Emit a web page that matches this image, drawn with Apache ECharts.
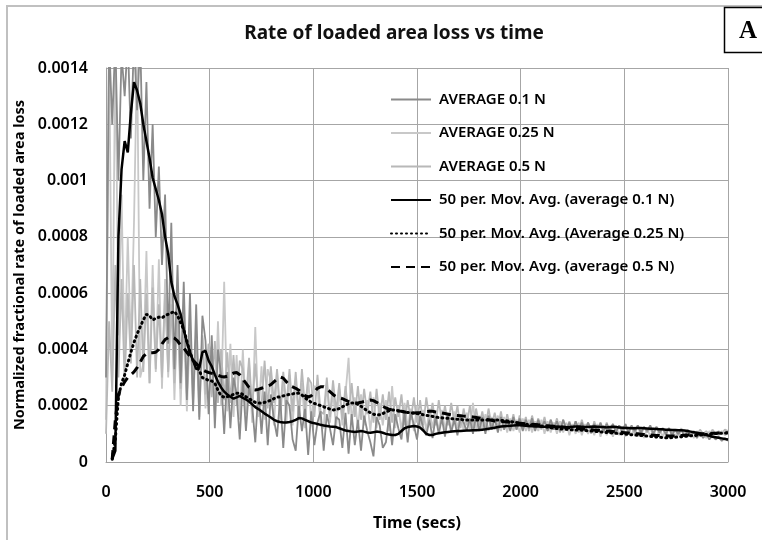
<!DOCTYPE html>
<html>
<head>
<meta charset="utf-8">
<script src="https://cdn.jsdelivr.net/npm/echarts@6/dist/echarts.min.js"></script>
<style>html,body{margin:0;padding:0;background:#fff}#c{width:762px;height:540px}</style>
</head>
<body>
<div id="c"></div>
<script>
// Time axis: samples every 15 s from 0 to 3000 s
const T_START = 0, T_STEP = 15;
const xTicks = [0, 500, 1000, 1500, 2000, 2500, 3000];
const yTickLabels = ['0', '0.0002', '0.0004', '0.0006', '0.0008', '0.001', '0.0012', '0.0014'];
const SERIES_NAMES = ['AVERAGE 0.1 N', 'AVERAGE 0.25 N', 'AVERAGE 0.5 N',
  '50 per. Mov. Avg. (average 0.1 N)', '50 per. Mov. Avg. (Average 0.25 N)', '50 per. Mov. Avg. (average 0.5 N)'];

// Values in units of 1e-6
const avg01 = [
  300,1500,1200,1500,1000,1450,1300,1500,1150,1500,
  1250,1500,1000,1350,900,1200,800,1050,700,950,
  420,850,330,700,280,640,220,600,180,560,
  150,520,430,170,450,120,400,310,100,320,
  120,300,240,80,290,110,270,200,70,260,
  100,250,60,240,150,90,230,50,220,200,
  80,40,200,110,190,25,180,60,140,180,
  40,170,120,60,160,150,50,175,30,170,
  60,150,40,165,110,70,20,160,130,50,
  70,160,60,170,120,80,175,70,180,130,
  80,165,120,95,150,85,160,100,155,90,
  165,105,150,95,160,140,110,155,100,165,
  110,160,100,165,115,155,105,160,115,150,
  110,160,115,155,110,150,120,155,110,150,
  120,145,110,150,115,145,110,150,115,140,
  110,145,115,140,110,140,115,135,110,140,
  110,135,115,135,105,130,110,135,105,130,
  110,130,105,125,110,130,100,125,105,120,
  100,120,95,115,100,115,90,110,95,105,
  85,105,85,100,80,95,80,90,75,85,
  75
];
const avg025 = [
  150,1500,300,1500,450,950,350,800,400,850,
  1450,300,350,750,280,700,320,720,260,650,
  300,600,220,560,200,520,180,480,200,450,
  160,440,190,420,380,170,500,200,640,180,
  420,160,380,150,400,170,350,140,480,160,
  340,150,330,290,130,320,150,300,140,310,
  130,290,150,280,120,300,140,270,260,130,
  120,280,140,250,120,260,130,240,370,140,
  230,120,240,130,220,110,230,120,210,130,
  220,110,270,120,200,110,210,120,190,110,
  200,120,185,110,190,120,180,110,185,115,
  175,110,180,120,170,110,175,115,210,110,
  165,115,170,110,160,115,165,110,160,105,
  155,110,150,105,155,110,150,105,145,110,
  150,100,145,105,140,100,145,105,140,95,
  135,100,140,95,135,100,130,95,135,90,
  130,95,125,90,130,95,125,90,120,95,
  125,90,120,85,120,90,115,85,120,90,
  115,85,110,90,115,85,110,90,105,85,
  110,90,105,85,110,90,105,95,110,95,
  105
];
const avg05 = [
  100,500,250,700,300,650,280,600,350,700,
  300,650,320,600,280,620,330,560,300,600,
  320,560,280,520,260,500,240,480,250,460,
  220,450,240,420,230,430,210,400,220,390,
  210,380,200,360,330,220,370,190,350,210,
  200,360,190,340,210,330,180,320,200,330,
  180,320,170,330,190,300,280,160,310,180,
  170,300,160,290,180,280,150,270,170,280,
  160,270,150,260,170,250,140,260,150,240,
  150,250,140,230,160,240,130,220,150,230,
  140,220,130,230,150,210,130,220,140,200,
  130,210,140,200,120,190,130,200,120,190,
  130,180,120,190,130,175,120,180,115,170,
  120,170,115,165,125,160,110,165,120,155,
  115,160,110,150,120,155,105,150,115,145,
  110,145,105,150,110,140,100,145,110,135,
  105,140,100,135,110,130,100,135,105,125,
  100,130,95,125,105,120,95,125,100,120,
  95,120,100,115,95,120,90,115,100,110,
  95,115,100,110,95,115,100,110,100,115,
  110
];
const ma01 = [
  null,null,10,40,800,1040,1140,1100,1240,1350,
  1320,1275,1200,1140,1080,1010,970,930,880,800,
  740,640,590,560,525,470,425,390,360,330,
  335,390,395,360,340,310,285,265,250,240,
  232,225,230,235,228,222,215,205,195,188,
  180,172,165,158,150,145,142,140,140,142,
  145,150,156,155,150,145,140,138,135,132,
  130,128,126,125,124,120,116,112,110,108,
  107,108,110,108,105,104,106,108,107,104,
  100,98,96,96,100,110,120,124,126,128,
  126,122,112,100,96,96,100,102,104,106,
  107,108,109,110,110,111,112,112,113,113,
  114,115,116,118,120,122,124,126,127,128,
  129,130,131,131,130,129,128,127,126,126,
  125,125,124,124,125,126,125,124,123,124,
  125,126,126,125,124,124,125,126,125,124,
  124,123,124,125,124,123,122,121,121,120,
  120,121,121,120,119,118,118,117,116,116,
  115,115,114,114,113,113,112,110,108,106,
  104,101,98,96,93,90,88,86,84,82,
  80
];
const ma025 = [
  null,null,10,80,230,280,310,350,390,425,
  455,480,505,525,520,505,510,515,512,520,
  525,530,535,520,495,470,430,390,360,340,
  325,300,295,290,288,280,255,235,230,232,
  236,240,244,245,240,232,225,218,212,210,
  210,212,215,220,225,230,232,235,238,240,
  242,245,244,238,228,220,212,208,205,200,
  196,192,188,185,186,190,196,202,207,210,
  210,205,198,190,182,175,170,167,168,172,
  178,182,185,184,182,180,178,176,175,174,
  172,170,168,166,164,162,160,158,157,156,
  155,154,153,152,151,150,149,149,149,149,
  149,149,149,149,149,149,149,148,147,146,
  144,142,140,138,136,134,132,131,131,130,
  128,126,124,122,120,119,118,117,116,115,
  115,114,114,113,112,111,110,109,108,107,
  106,105,104,103,102,101,100,99,98,97,
  96,95,94,93,92,91,90,89,88,87,
  86,86,87,88,89,90,91,92,93,94,
  95,96,97,98,99,100,101,102,102,103,
  103
];
const ma05 = [
  null,null,10,150,240,265,285,300,310,320,
  335,355,375,385,388,388,390,400,420,435,
  442,444,440,430,415,405,390,375,362,350,
  338,328,322,318,315,312,308,304,302,305,
  310,316,318,310,295,280,265,258,256,258,
  262,266,270,275,285,295,302,298,285,272,
  267,262,255,245,236,231,235,248,262,267,
  267,260,250,240,232,228,225,220,215,212,
  210,210,212,215,218,220,218,212,205,198,
  192,188,185,183,181,180,178,176,175,174,
  175,176,178,179,180,180,178,176,174,172,
  170,168,166,165,164,163,162,161,160,158,
  156,154,152,150,148,146,145,144,143,142,
  141,140,139,138,137,136,135,134,133,132,
  131,130,129,128,127,126,125,124,123,122,
  121,120,119,118,117,116,115,114,113,112,
  111,110,109,108,107,106,105,104,103,102,
  101,100,99,98,97,96,95,94,94,93,
  93,92,92,92,93,94,95,96,97,98,
  99,100,100,101,101,102,102,103,103,104,
  104
];

const UNIT = 1e-6;
const pairs = arr => arr.map((v, i) => [T_START + i * T_STEP, v == null ? null : v * UNIT]);

const FONT = 'Noto Sans';
const chart = echarts.init(document.getElementById('c'), null, {renderer: 'canvas'});

function rawSeries(name, data, color) {
  return {name, type: 'line', data: pairs(data), showSymbol: false, symbol: 'none',
    lineStyle: {color, width: 1.8}, itemStyle: {color}, clip: true, z: 2};
}
function maSeries(name, data, type, width, cap) {
  return {name, type: 'line', data: pairs(data), showSymbol: false, symbol: 'none', connectNulls: false,
    lineStyle: {color: '#000', width, type, cap: cap || 'butt'}, itemStyle: {color: '#000'}, clip: true, z: 5};
}

chart.setOption({
  animation: false,
  backgroundColor: '#fff',
  title: {
    text: 'Rate of loaded area loss vs time', left: 389, top: 19, textAlign: 'center',
    textStyle: {fontFamily: FONT, fontSize: 19, fontWeight: 'bold', color: '#111'}
  },
  grid: {left: 106, right: 34, top: 68, bottom: 78},
  legend: {
    orient: 'vertical', left: 385, top: 87, itemWidth: 40, itemHeight: 14, itemGap: 18.5,
    data: SERIES_NAMES,
    itemStyle: {opacity: 0},
    textStyle: {fontFamily: FONT, fontSize: 15, fontWeight: 600, color: '#000', padding: [0, 0, 0, 3]}
  },
  xAxis: {
    type: 'value', min: 0, max: 3000, interval: 500,
    name: 'Time (secs)', nameLocation: 'middle', nameGap: 53,
    nameTextStyle: {fontFamily: FONT, fontSize: 16, fontWeight: 'bold', color: '#000'},
    axisLine: {show: true, lineStyle: {color: '#a0a0a0', width: 1}},
    axisTick: {show: false},
    axisLabel: {fontFamily: FONT, fontSize: 16, color: '#000', fontWeight: 600, margin: 22,
      formatter: v => xTicks.includes(v) ? String(v) : ''},
    splitLine: {show: true, lineStyle: {color: '#a6a6a6', width: 1}}
  },
  yAxis: {
    type: 'value', min: 0, max: 0.0014, interval: 0.0002,
    name: 'Normalized fractional rate of loaded area loss', nameLocation: 'middle', nameGap: 76,
    nameTextStyle: {fontFamily: FONT, fontSize: 14.5, fontWeight: 'bold', color: '#000'},
    axisLine: {show: true, lineStyle: {color: '#a0a0a0', width: 1}},
    axisTick: {show: false},
    axisLabel: {fontFamily: FONT, fontSize: 16, color: '#000', fontWeight: 600, margin: 18,
      formatter: v => yTickLabels[Math.round(v / 0.0002)]},
    splitLine: {show: true, lineStyle: {color: '#a6a6a6', width: 1}}
  },
  graphic: [
    {type: 'rect', shape: {x: 7, y: 6, width: 780, height: 560}, style: {fill: 'none', stroke: '#c0c0c0', lineWidth: 2}, z: -10, silent: true},
    {type: 'rect', shape: {x: 724.5, y: 7.5, width: 50, height: 45}, style: {fill: '#fff', stroke: '#000', lineWidth: 1.5}, z: 10},
    {type: 'text', x: 748, y: 32, style: {text: 'A', fontFamily: 'Liberation Serif', fontSize: 25, fontWeight: 'bold', fill: '#000', align: 'center', verticalAlign: 'middle'}, z: 11}
  ],
  series: [
    rawSeries(SERIES_NAMES[1], avg025, '#c8c8c8'),
    rawSeries(SERIES_NAMES[2], avg05, '#b8b8b8'),
    rawSeries(SERIES_NAMES[0], avg01, '#8a8a8a'),
    maSeries(SERIES_NAMES[3], ma01, 'solid', 2.5),
    maSeries(SERIES_NAMES[4], ma025, [1, 4], 3, 'round'),
    maSeries(SERIES_NAMES[5], ma05, [9, 6], 3)
  ]
});
</script>
</body>
</html>
